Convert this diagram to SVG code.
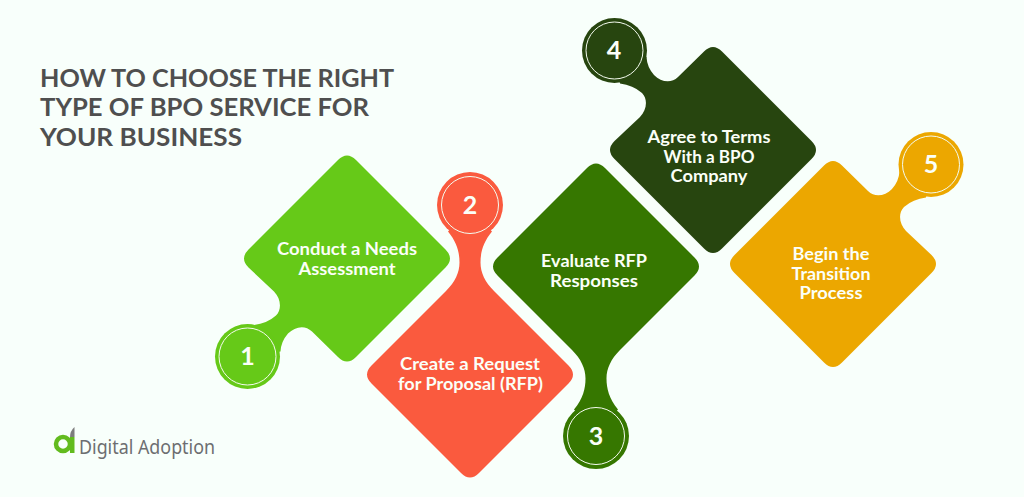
<svg xmlns="http://www.w3.org/2000/svg" width="1024" height="497" viewBox="0 0 1024 497">
<style>
.lbl{font-family:"Lato","Open Sans","Liberation Sans",sans-serif;font-weight:700;font-size:16.5px;fill:#fbfff8;text-anchor:middle}
.num{font-family:"Lato","Liberation Sans",sans-serif;font-weight:700;font-size:25px;fill:#fbfff8;text-anchor:middle}
.ring{fill:none;stroke:#f4fbef;stroke-width:1}
.ttl{font-family:"Lato","Liberation Sans",sans-serif;font-weight:700;font-size:25px;fill:#4f4f4f}
</style>
<defs>
<path id="diag" d="M-9,-98.500Q0,-107.500 9,-98.500L98.500,-9Q107.500,0 98.500,9L9,98.500Q0,107.500 -9,98.500L-35,73C-42,66 -52,68 -59,75Q-66,83 -66.500,93L-99.500,98.500L-93,66.500Q-80,65 -71,57C-65,51 -66,40 -73,33L-98.500,9Q-107.500,0 -98.500,-9Z"/>
<path id="straight" d="M-98.500,-9L-24,-83.500C-15,-92.500 -10.500,-102 -10.500,-112C-10.500,-122 -13,-132 -22,-143L0,-167L22,-143C13,-132 10.500,-122 10.500,-112C10.500,-102 15,-92.500 24,-83.500L98.500,-9Q107.500,0 98.500,9L9,98.500Q0,107.500 -9,98.500L-98.500,9Q-107.500,0 -98.500,-9Z"/>
</defs>
<rect width="1024" height="497" fill="#f8fffb"/>
<g id="title">
<text class="ttl" x="40" y="87" textLength="354" lengthAdjust="spacingAndGlyphs">HOW TO CHOOSE THE RIGHT</text>
<text class="ttl" x="40" y="116" textLength="329" lengthAdjust="spacingAndGlyphs">TYPE OF BPO SERVICE FOR</text>
<text class="ttl" x="40" y="146" textLength="202" lengthAdjust="spacingAndGlyphs">YOUR BUSINESS</text>
</g>
<g id="node-1" fill="#66c918">
<use href="#diag" transform="translate(347,258.500)"/>
<circle cx="247.500" cy="356.500" r="32.500"/><circle class="ring" cx="247.500" cy="356.500" r="28.500"/>
<text class="num" x="247.500" y="365">1</text>
<text class="lbl" x="347" y="254.500" textLength="140" lengthAdjust="spacingAndGlyphs">Conduct a Needs</text>
<text class="lbl" x="347" y="274.500" textLength="97" lengthAdjust="spacingAndGlyphs">Assessment</text>
</g>
<g id="node-2" fill="#fa5a3e">
<use href="#straight" transform="translate(470,374.500)"/>
<circle cx="470" cy="205" r="33"/><circle class="ring" cx="470" cy="205" r="28.500"/>
<text class="num" x="470" y="214">2</text>
<text class="lbl" x="470" y="370" textLength="140" lengthAdjust="spacingAndGlyphs">Create a Request</text>
<text class="lbl" x="470.500" y="390" textLength="145" lengthAdjust="spacingAndGlyphs">for Proposal (RFP)</text>
</g>
<g id="node-3" fill="#367700">
<use href="#straight" transform="translate(596,266.500) scale(1,-1)"/>
<circle cx="596" cy="436" r="33"/><circle class="ring" cx="596" cy="436" r="28.500"/>
<text class="num" x="596" y="445">3</text>
<text class="lbl" x="594" y="267" textLength="106" lengthAdjust="spacingAndGlyphs">Evaluate RFP</text>
<text class="lbl" x="594" y="286.500" textLength="88" lengthAdjust="spacingAndGlyphs">Responses</text>
</g>
<g id="node-4" fill="#27450f">
<use href="#diag" transform="translate(713,150) scale(1,-1)"/>
<circle cx="614.500" cy="50.500" r="32.500"/><circle class="ring" cx="614.500" cy="50.500" r="28.500"/>
<text class="num" x="614" y="59">4</text>
<text class="lbl" x="709" y="143" textLength="123" lengthAdjust="spacingAndGlyphs">Agree to Terms</text>
<text class="lbl" x="709" y="163" textLength="91" lengthAdjust="spacingAndGlyphs">With a BPO</text>
<text class="lbl" x="709" y="182" textLength="77" lengthAdjust="spacingAndGlyphs">Company</text>
</g>
<g id="node-5" fill="#eca700">
<use href="#diag" transform="translate(833,264) scale(-1,-1)"/>
<circle cx="931" cy="164.500" r="32.500"/><circle class="ring" cx="931" cy="164.500" r="28.500"/>
<text class="num" x="931" y="173">5</text>
<text class="lbl" x="831" y="260" textLength="77" lengthAdjust="spacingAndGlyphs">Begin the</text>
<text class="lbl" x="831" y="280" textLength="79" lengthAdjust="spacingAndGlyphs">Transition</text>
<text class="lbl" x="831" y="299" textLength="63" lengthAdjust="spacingAndGlyphs">Process</text>
</g>
<g id="connectors"/>
<g id="logo">
<circle cx="63" cy="444" r="7" fill="none" stroke="#62bb1e" stroke-width="4.500"/>
<path d="M70,437H74.500V453H70Z" fill="#62bb1e"/>
<path d="M70,437Q70,431 74.500,427V437Z" fill="#7d7d7d"/>
<text x="79" y="454" font-family="Noto Sans, Open Sans, sans-serif" font-size="20.500" fill="#6d6e71" textLength="136" lengthAdjust="spacingAndGlyphs">Digital Adoption</text>
</g>
</svg>
